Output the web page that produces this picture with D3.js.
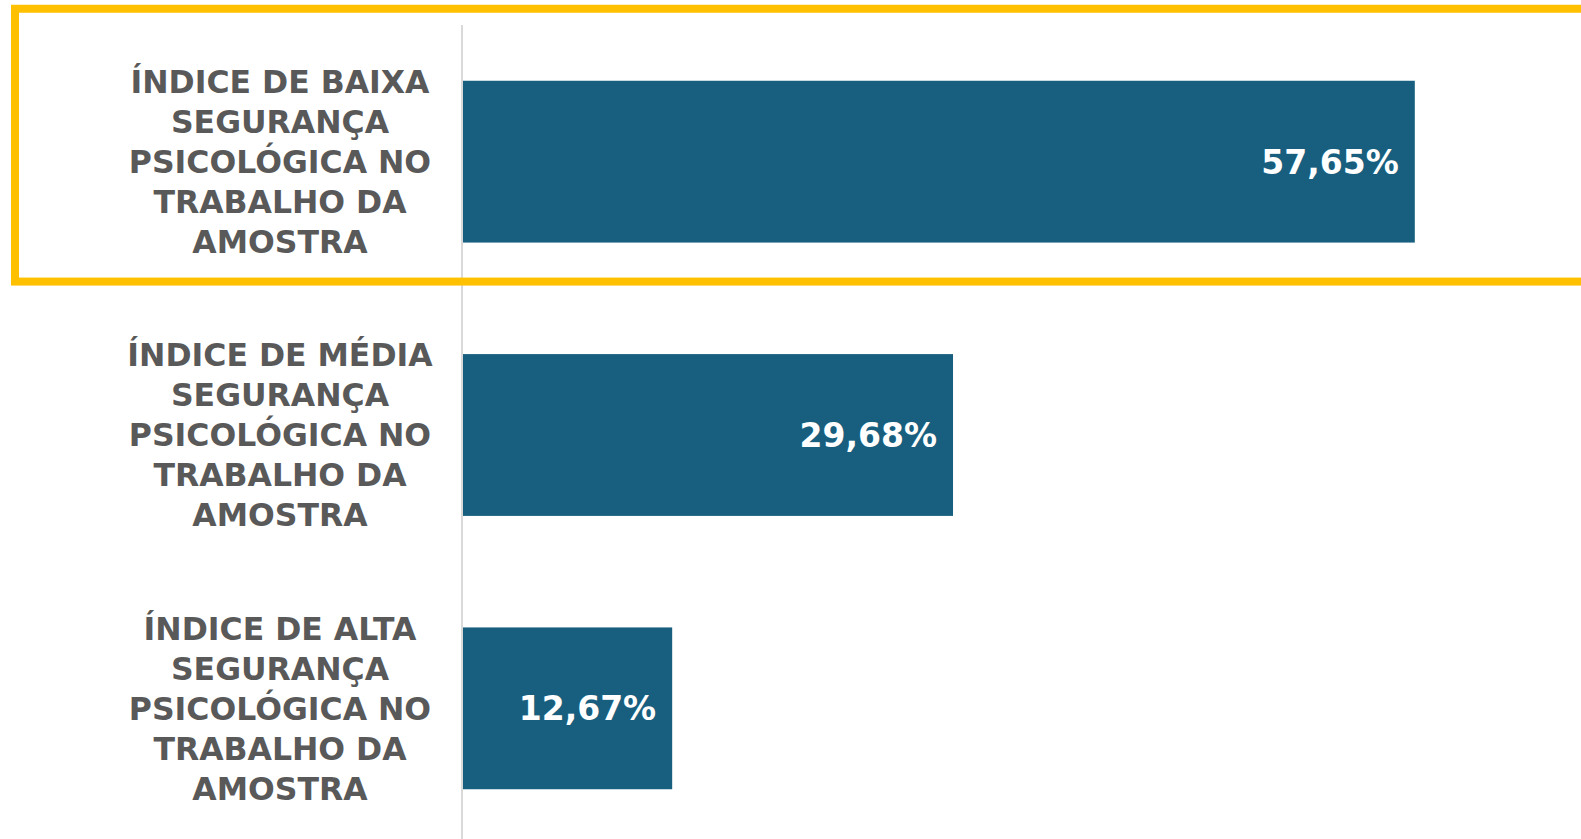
<!DOCTYPE html>
<html>
<head>
<meta charset="utf-8">
<script src="https://cdn.jsdelivr.net/npm/d3@7"></script>
<style>
  html, body { margin: 0; padding: 0; background: #fff; }
  svg { display: block; }
</style>
</head>
<body>
<div id="chart"></div>
<script>
'use strict';

// Data
var categories = ["baixa", "media", "alta"];
var labelLines = [
    ["ÍNDICE DE BAIXA", "SEGURANÇA", "PSICOLÓGICA NO", "TRABALHO DA", "AMOSTRA"],
    ["ÍNDICE DE MÉDIA", "SEGURANÇA", "PSICOLÓGICA NO", "TRABALHO DA", "AMOSTRA"],
    ["ÍNDICE DE ALTA", "SEGURANÇA", "PSICOLÓGICA NO", "TRABALHO DA", "AMOSTRA"]
];
var values = [57.65, 29.68, 12.67];
var valueLabels = ["57,65%", "29,68%", "12,67%"];

var WIDTH = 1581;
var HEIGHT = 839;

var svg = d3.select("#chart")
    .append("svg")
    .attr("width", WIDTH)
    .attr("height", HEIGHT);

var x = d3.scaleLinear()
    .domain([0, 100])
    .range([463, 463 + 1651]);

var y = d3.scaleBand()
    .domain(categories)
    .range([25, 845])
    .paddingInner(0.408)
    .paddingOuter(0.204);

// Bars
svg.selectAll("rect.bar")
    .data(values)
    .enter()
    .append("rect")
    .attr("class", "bar")
    .attr("x", x(0))
    .attr("y", function (d, i) { return y(categories[i]); })
    .attr("width", function (d) { return x(d) - x(0); })
    .attr("height", y.bandwidth())
    .style("fill", "#185f7f");

// Axis line
svg.append("line")
    .attr("x1", x(0) - 1)
    .attr("x2", x(0) - 1)
    .attr("y1", y.range()[0])
    .attr("y2", HEIGHT)
    .style("stroke", "#d9d9d9")
    .style("stroke-width", 2);

// Value labels
svg.selectAll("text.value")
    .data(values)
    .enter()
    .append("text")
    .attr("class", "value")
    .attr("x", function (d) { return x(d) - 16; })
    .attr("y", function (d, i) { return y(categories[i]) + y.bandwidth() / 2; })
    .attr("dy", "0.36em")
    .attr("text-anchor", "end")
    .style("font-family", "'DejaVu Sans', sans-serif")
    .style("font-weight", "bold")
    .style("font-size", "33px")
    .style("fill", "#ffffff")
    .text(function (d, i) { return valueLabels[i]; });

// Category labels
var lineH = 40;
var cat = svg.selectAll("text.cat")
    .data(categories)
    .enter()
    .append("text")
    .attr("class", "cat")
    .attr("text-anchor", "middle")
    .style("font-family", "'DejaVu Sans', sans-serif")
    .style("font-weight", "bold")
    .style("font-size", "31.5px")
    .style("fill", "#595959");

cat.each(function (d, i) {
    var lines = labelLines[i];
    var cy = y(d) + y.bandwidth() / 2;
    var first = cy - (lines.length - 1) / 2 * lineH;
    d3.select(this).selectAll("tspan")
        .data(lines)
        .enter()
        .append("tspan")
        .attr("x", 280)
        .attr("y", function (l, j) { return first + j * lineH; })
        .attr("dy", "0.36em")
        .text(function (l) { return l; });
});

// Highlight frame around first category
svg.append("rect")
    .attr("x", 15)
    .attr("y", y(categories[0]) - 72)
    .attr("width", WIDTH + 20)
    .attr("height", y.bandwidth() + 111)
    .style("fill", "none")
    .style("stroke", "#ffc000")
    .style("stroke-width", 8);
</script>
</body>
</html>
